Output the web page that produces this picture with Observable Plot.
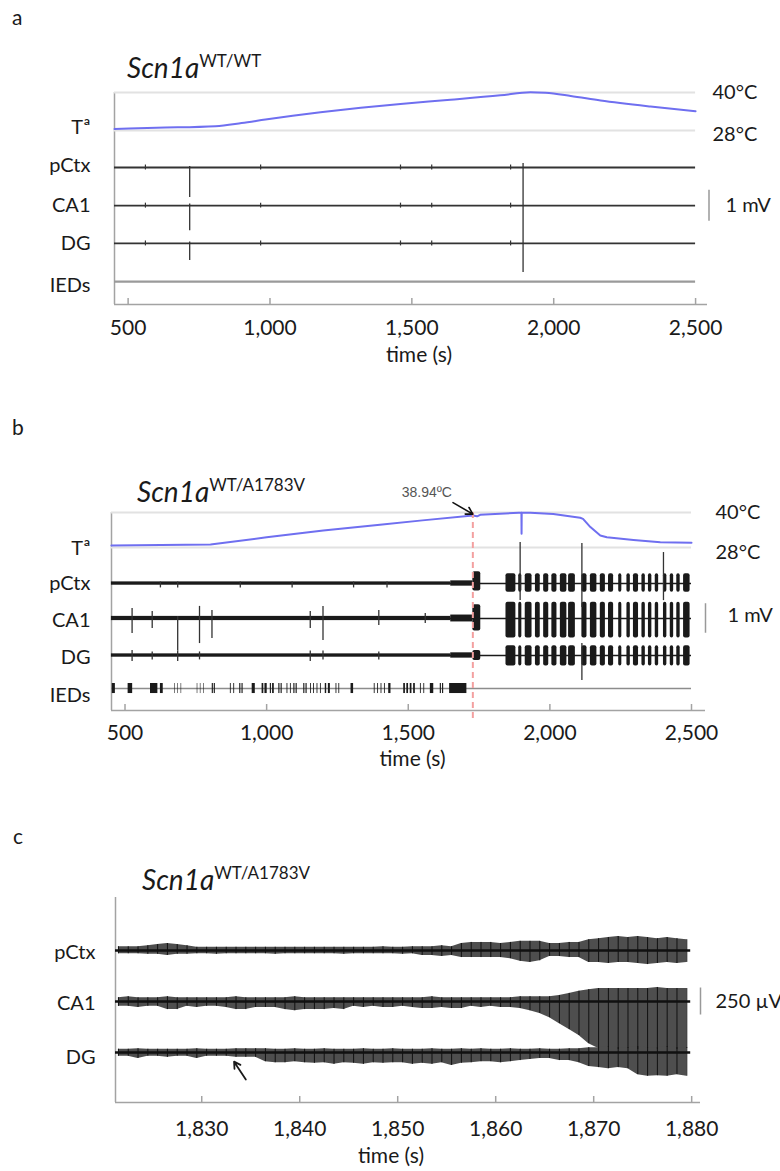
<!DOCTYPE html>
<html><head><meta charset="utf-8">
<script src="https://cdn.jsdelivr.net/npm/d3@7"></script>
<script src="https://cdn.jsdelivr.net/npm/@observablehq/plot@0.6"></script>
<style>
html,body{margin:0;padding:0;background:#fff}
body{width:780px;height:1171px;position:relative;overflow:hidden;font-family:Lato,"Noto Sans",sans-serif;color:#1a1a1a}
.abs{position:absolute;line-height:1;white-space:nowrap}
.letter{font-size:21px}
.title{font-size:28px}
.title i{font-style:italic}
.title .sup{font-size:17px;position:relative;top:-11px}
svg{position:absolute;left:0}
</style>
</head><body>
<div class="abs letter" style="left:12px;top:6px">a</div>
<div class="abs letter" style="left:12px;top:416px">b</div>
<div class="abs letter" style="left:13px;top:825px">c</div>
<div class="abs title" style="left:127px;top:53px"><i>Scn1a</i><span class="sup">WT/WT</span></div>
<div class="abs title" style="left:137px;top:477px"><i>Scn1a</i><span class="sup">WT/A1783V</span></div>
<div class="abs title" style="left:142px;top:865px"><i>Scn1a</i><span class="sup">WT/A1783V</span></div>
<script>
// ---------------- DATA ----------------
const ticksAB = [500, 1000, 1500, 2000, 2500];
const ticksC = [1830, 1840, 1850, 1860, 1870, 1880];
const channelsAB = ["Tª", "pCtx", "CA1", "DG", "IEDs"];
const channelsC = ["pCtx", "CA1", "DG"];
const tempLabels = [40, 28];

// panel a: temperature (s, °C)
const tempA_time = [452, 600, 808, 900, 984, 1080, 1178, 1320, 1460, 1636, 1812, 1918, 1971, 2060, 2165, 2341, 2500];
const tempA_degC = [28.5, 28.9, 29.4, 30.4, 31.5, 32.7, 33.8, 35.2, 36.4, 37.7, 39.1, 40.1, 39.9, 38.9, 37.5, 35.6, 34.1];
// panel a: spikes [time s, channel, up mV, down mV]
const spikesA = [
  [717, "pCtx", 0.03, 0.97], [717, "CA1", 0.05, 0.81], [717, "DG", 0.05, 0.55],
  [1892, "pCtx", 0.13, 1.23], [1892, "CA1", 0, 1.23], [1892, "DG", 0, 0.94]
];
const smallSpikesA = [561, 967, 1460, 1570, 1848];

// panel b: temperature
const tempB_time = [452, 802, 1000, 1200, 1400, 1550, 1728, 1743, 1754, 1890, 1899.5, 1900, 1900.5, 1931, 2012, 2107, 2117, 2143, 2178, 2201, 2295, 2390, 2500];
const tempB_degC = [28.7, 29.0, 31.5, 33.8, 35.8, 37.3, 38.94, 38.7, 39.2, 39.9, 39.9, 32.7, 39.9, 39.9, 39.5, 38.2, 37.8, 35.0, 32.1, 31.5, 30.6, 29.8, 29.6];
const onsetB = {time: 1728, degC: 38.94, label: "38.94ºC"};
// pre-ictal background noise [start, end, half-width mV]
const noiseB = [[452, 1650, 0.055], [1650, 1728, 0.09]];
// seizure bursts [start, end]
const burstsB = [[1845,1880],[1890,1901],[1913,1937],[1949,1966],[1978,1996],[2007,2025],[2037,2060],[2066,2090],[2113,2131],[2143,2166],[2178,2196],[2207,2225],[2243,2254],[2272,2284],[2295,2313],[2325,2337],[2348,2360],[2372,2384],[2401,2413],[2425,2437],[2448,2460],[2472,2495]];
const onsetBurstB = [1728, 1756];
const burstAmpB = {pCtx: [0.33, 0.30], CA1: [0.55, 0.66], DG: [0.33, 0.36]};
const onsetAmpB = {pCtx: [0.40, 0.25], CA1: [0.47, 0.42], DG: [0.17, 0.17]};
const spikesB = [
  [525,"CA1",0.34,0.51],[596,"CA1",0.24,0.34],[686,"CA1",0.07,1.10],[763,"CA1",0.41,0.85],[807,"CA1",0.27,0.68],
  [1154,"CA1",0.24,0.34],[1199,"CA1",0.41,0.75],[1396,"CA1",0.27,0.24],[1560,"CA1",0.17,0.17],
  [525,"DG",0.17,0.2],[596,"DG",0.12,0.15],[686,"DG",0.15,0.2],[763,"DG",0.12,0.15],[1154,"DG",0.15,0.2],[1199,"DG",0.15,0.15],[1396,"DG",0.12,0.15],
  [625,"pCtx",0.05,0.15],[686,"pCtx",0.05,0.15],[907,"pCtx",0.05,0.15],[1090,"pCtx",0.05,0.15],[1307,"pCtx",0.05,0.15],[1425,"pCtx",0.05,0.15],
  [1895,"pCtx",1.39,0.58],[2113,"pCtx",1.36,0.81],[2113,"DG",0.41,0.85],[2401,"pCtx",1.05,0.58]
];
// interictal epileptiform discharges [start, end] (s)
const iedsB = [[455,466],[511,527],[590,616],[625,635],[675,677],[686,688],[698,700],[755,757],[766,768],[778,780],[808,812],[815,819],[872,875],[884,887],[905,909],[913,917],[949,960],[984,990],[994,1002],[1013,1017],[1021,1027],[1043,1047],[1051,1055],[1072,1075],[1084,1087],[1096,1100],[1104,1108],[1131,1135],[1139,1143],[1155,1158],[1166,1169],[1178,1181],[1190,1193],[1207,1212],[1218,1225],[1245,1248],[1255,1258],[1298,1307],[1380,1383],[1392,1395],[1404,1407],[1416,1419],[1431,1439],[1484,1490],[1495,1501],[1507,1513],[1519,1525],[1543,1546],[1555,1558],[1578,1590],[1613,1617],[1621,1625],[1646,1707]];

// panel c: envelope of the traces, one sample per second (µV above / below baseline)
const timeC = d3.range(59).map(i => 1821.5 + i);
const pCtxUpC = [35,35,35,45,55,65,55,45,30,30,30,30,30,30,30,30,30,30,30,30,30,30,30,30,30,30,30,35,30,30,35,35,35,45,35,65,75,75,75,65,75,85,85,85,65,65,75,75,100,110,120,130,120,130,120,110,120,110,100];
const pCtxDownC = [30,30,30,35,35,45,35,35,30,30,35,30,30,30,30,30,35,30,30,30,30,30,30,35,30,30,30,30,30,35,30,45,45,55,45,65,65,65,65,65,75,100,110,95,55,55,65,65,110,110,120,110,110,120,130,120,110,120,110];
const ca1UpC = [35,45,35,35,35,45,35,35,35,35,35,35,45,35,35,35,35,35,45,35,35,35,35,35,35,35,35,35,35,35,35,35,45,35,35,35,35,35,35,35,35,45,45,45,45,55,75,95,110,120,120,120,120,120,120,130,120,120,120];
const ca1DownC = [45,45,55,45,45,75,75,45,55,45,45,55,75,75,55,55,55,75,85,75,75,75,65,75,45,55,45,55,55,45,55,65,65,55,65,65,45,55,45,55,55,65,85,110,150,205,260,315,390,435,425,445,435,445,435,445,425,445,435];
const dgUpC = [30,30,35,30,30,30,30,30,35,30,30,30,35,35,35,35,30,30,35,30,30,35,30,30,30,35,30,30,35,30,30,30,35,30,30,35,30,35,30,30,35,30,30,35,30,30,35,35,45,45,55,45,45,55,45,45,55,45,45];
const dgDownC = [35,35,55,35,35,45,35,35,55,35,35,35,45,45,45,85,95,95,85,95,100,95,110,95,100,110,95,100,95,95,110,100,110,95,120,100,95,85,85,95,85,75,65,55,55,75,75,95,130,140,150,140,150,205,220,215,220,205,220];
const arrowC = {time: 1833.3, channel: "DG"};

// ---------------- STYLE / LAYOUT ----------------
const BLUE = "#6f6ff0", AXIS = "#a3a3a3", GRID = "#e2e2e2", INK = "#1a1a1a", RED = "#f3a0a0";
const FONT = "Lato, 'Noto Sans', sans-serif";

function addPlot(cfg, marks) {
  const svg = Plot.plot({
    width: 780, height: cfg.height,
    marginLeft: cfg.mL, marginRight: cfg.mR, marginTop: cfg.mT, marginBottom: cfg.mB,
    x: {domain: cfg.xDomain},
    y: {domain: cfg.yDomain, axis: null},
    style: {fontFamily: FONT, fontSize: "20px", color: INK, background: "transparent", overflow: "visible"},
    marks
  });
  svg.style.top = cfg.top + "px";
  document.body.appendChild(svg);
}

function frameMarks(cfg, ticks) {
  const plotH = cfg.height - cfg.mT - cfg.mB;
  return [
    Plot.ruleX([cfg.xDomain[0]], {stroke: AXIS, strokeWidth: 1.5}),
    Plot.ruleY([cfg.yDomain[0]], {stroke: AXIS, strokeWidth: 1.5}),
    Plot.ruleX(ticks, {x: d => d, stroke: AXIS, strokeWidth: 1.5, insetTop: plotH - 6}),
    Plot.axisX(ticks, {tickSize: 0, tickPadding: cfg.tickPad, fontSize: 21, tickFormat: d3.format(","), label: null}),
    Plot.text(["time (s)"], {text: d => d, frameAnchor: "bottom", dy: cfg.labelDy, dx: cfg.labelDx, fontSize: 21})
  ];
}

function labelMarks(names, rowY, dx, dyMap) {
  return names.map(n => Plot.text([n], {y: () => rowY[n], text: d => d, frameAnchor: "left", textAnchor: "end", dx, dy: dyMap[n] || 0, fontSize: 20}));
}

// ---------------- PANEL A ----------------
{
  const cfg = {top: 80, height: 300, mL: 114, mR: 73, mT: 12, mB: 76, xDomain: [452, 2542], yDomain: [-4.42, 2.42], tickPad: 16, labelDy: 57, labelDx: 8};
  const tY = T => 1.19 + (T - 28) * (2.42 - 1.19) / 12;
  const row = {"Tª": tY(28), pCtx: 0, CA1: -1.23, DG: -2.45, IEDs: -3.68};
  const temp = tempA_time.map((t, i) => ({t, T: tempA_degC[i]}));
  const small = smallSpikesA.flatMap(t => ["pCtx", "CA1", "DG"].map(c => ({t, c})));
  addPlot(cfg, [
    ...frameMarks(cfg, ticksAB),
    Plot.ruleY(tempLabels, {y: tY, x1: cfg.xDomain[0], x2: 2500, stroke: GRID, strokeWidth: 2}),
    Plot.line(temp, {x: "t", y: d => tY(d.T), stroke: BLUE, strokeWidth: 2, curve: "monotone-x"}),
    Plot.ruleY(["pCtx", "CA1", "DG"], {y: d => row[d], x1: cfg.xDomain[0], x2: 2500, stroke: "#333", strokeWidth: 1.8}),
    Plot.ruleY(["IEDs"], {y: d => row[d], x1: cfg.xDomain[0], x2: 2500, stroke: "#9a9a9a", strokeWidth: 2.2}),
    Plot.ruleX(small, {x: "t", y1: d => row[d.c] - 0.08, y2: d => row[d.c] + 0.08, stroke: "#333", strokeWidth: 1.2}),
    Plot.ruleX(spikesA, {x: d => d[0], y1: d => row[d[1]] + d[2], y2: d => row[d[1]] - d[3], stroke: "#333", strokeWidth: 1.3}),
    ...labelMarks(channelsAB, row, -24, {"Tª": -3, pCtx: -2, IEDs: 4}),
    ...tempLabels.map(v => Plot.text([v], {y: tY, text: d => d + "°C", frameAnchor: "right", textAnchor: "start", dx: 5, dy: v === 28 ? 4 : 0, fontSize: 20})),
    Plot.ruleX([1], {x: () => cfg.xDomain[1], y1: d => row.CA1 - d / 2, y2: d => row.CA1 + d / 2, dx: 1.5, stroke: "#999", strokeWidth: 1.5}),
    Plot.text(["1 mV"], {y: () => row.CA1, text: d => d, frameAnchor: "right", textAnchor: "start", dx: 18, fontSize: 20})
  ]);
}

// ---------------- PANEL B ----------------
{
  const cfg = {top: 480, height: 290, mL: 111, mR: 75, mT: 32, mB: 60, xDomain: [452.3, 2549.4], yDomain: [-4.305, 2.407], tickPad: 15, labelDy: 55, labelDx: 4};
  const tY = T => 1.22 + (T - 28) * (2.407 - 1.22) / 12;
  const row = {"Tª": tY(28), pCtx: 0, CA1: -1.186, DG: -2.44, IEDs: -3.56};
  const eeg = ["pCtx", "CA1", "DG"];
  const temp = tempB_time.map((t, i) => ({t, T: tempB_degC[i]}));
  const noise = noiseB.flatMap(([a, b, h]) => eeg.map(c => ({a, b, h: c === "CA1" ? h * 1.3 : h, c})));
  const bursts = burstsB.flatMap(([a, b]) => eeg.map(c => ({a, b, c, up: burstAmpB[c][0], dn: burstAmpB[c][1]})))
    .concat(eeg.map(c => ({a: onsetBurstB[0], b: onsetBurstB[1], c, up: onsetAmpB[c][0], dn: onsetAmpB[c][1]})));
  addPlot(cfg, [
    ...frameMarks(cfg, ticksAB),
    Plot.ruleY(tempLabels, {y: tY, x1: cfg.xDomain[0], x2: 2500, stroke: GRID, strokeWidth: 2}),
    Plot.line(temp, {x: "t", y: d => tY(d.T), stroke: BLUE, strokeWidth: 2}),
    Plot.ruleY(eeg, {y: d => row[d], x1: cfg.xDomain[0], x2: 2500, stroke: INK, strokeWidth: 1.3}),
    Plot.rect(noise, {x1: "a", x2: "b", y1: d => row[d.c] - d.h, y2: d => row[d.c] + d.h, fill: INK}),
    Plot.rect(bursts, {x1: "a", x2: "b", y1: d => row[d.c] - d.dn, y2: d => row[d.c] + d.up, fill: INK, rx: 2}),
    Plot.ruleX(spikesB, {x: d => d[0], y1: d => row[d[1]] + d[2], y2: d => row[d[1]] - d[3], stroke: "#333", strokeWidth: 1.3}),
    Plot.ruleY(["IEDs"], {y: d => row[d], x1: cfg.xDomain[0], x2: 2500, stroke: "#8c8c8c", strokeWidth: 1.6}),
    Plot.rect(iedsB, {x1: d => d[0], x2: d => d[1], y1: row.IEDs - 0.17, y2: row.IEDs + 0.17, fill: INK}),
    Plot.ruleX([onsetB], {x: "time", stroke: RED, strokeWidth: 2, strokeDasharray: "6,4", insetBottom: -12}),
    Plot.arrow([onsetB], {x1: d => d.time - 70, y1: d => tY(d.degC) + 0.44, x2: "time", y2: d => tY(d.degC) + 0.05, stroke: "#111", strokeWidth: 1.6, headLength: 9}),
    Plot.text([onsetB], {x: "time", y: d => tY(d.degC), text: "label", dx: -46, dy: -23, fill: "#555", fontSize: 14, fontFamily: "'Liberation Sans', Arial, sans-serif"}),
    ...labelMarks(channelsAB, row, -21, {"Tª": 1, CA1: 2, DG: 2, IEDs: 7}),
    ...tempLabels.map(v => Plot.text([v], {y: tY, text: d => d + "°C", frameAnchor: "right", textAnchor: "start", dx: 10, dy: v === 28 ? 5 : 0, fontSize: 20})),
    Plot.ruleX([1], {x: () => cfg.xDomain[1], y1: d => row.CA1 - d / 2, y2: d => row.CA1 + d / 2, stroke: "#999", strokeWidth: 1.5}),
    Plot.text(["1 mV"], {y: () => row.CA1, text: d => d, frameAnchor: "right", textAnchor: "start", dx: 22, dy: -3, fontSize: 20})
  ]);
}

// ---------------- PANEL C ----------------
{
  const cfg = {top: 880, height: 291, mL: 115, mR: 80, mT: 17, mB: 69, xDomain: [1821.2, 1880.9], yDomain: [-1407, 491], tickPad: 19, labelDy: 60, labelDx: -17};
  const row = {pCtx: 0, CA1: -472, DG: -944};
  const env = {pCtx: [pCtxUpC, pCtxDownC], CA1: [ca1UpC, ca1DownC], DG: [dgUpC, dgDownC]};
  const samples = channelsC.flatMap(c => timeC.map((t, i) => ({t, c, up: env[c][0][i], dn: env[c][1][i]})));
  addPlot(cfg, [
    ...frameMarks(cfg, ticksC),
    ...channelsC.map(c => Plot.areaY(samples.filter(d => d.c === c), {x: "t", y1: d => row[c] - d.dn, y2: d => row[c] + d.up, fill: "#4e4e4e"})),
    Plot.ruleX(samples, {x: "t", y1: d => row[d.c] - d.dn, y2: d => row[d.c] + d.up, stroke: "#111", strokeWidth: 1}),
    Plot.ruleY(channelsC, {y: d => row[d], x1: cfg.xDomain[0], x2: 1879.9, stroke: "#111", strokeWidth: 2.6}),
    Plot.arrow([arrowC], {x1: d => d.time + 1.2, y1: d => row[d.channel] - 250, x2: "time", y2: d => row[d.channel] - 85, stroke: INK, strokeWidth: 1.8, headLength: 9}),
    ...labelMarks(channelsC, row, -20, {pCtx: 2, CA1: 2, DG: 5}),
    Plot.ruleX([250], {x: () => cfg.xDomain[1], y1: d => row.CA1 - d / 2, y2: d => row.CA1 + d / 2, stroke: "#999", strokeWidth: 1.5}),
    Plot.text(["250 µV"], {y: () => row.CA1, text: d => d, frameAnchor: "right", textAnchor: "start", dx: 15, fontSize: 20})
  ]);
}
</script>
</body></html>
